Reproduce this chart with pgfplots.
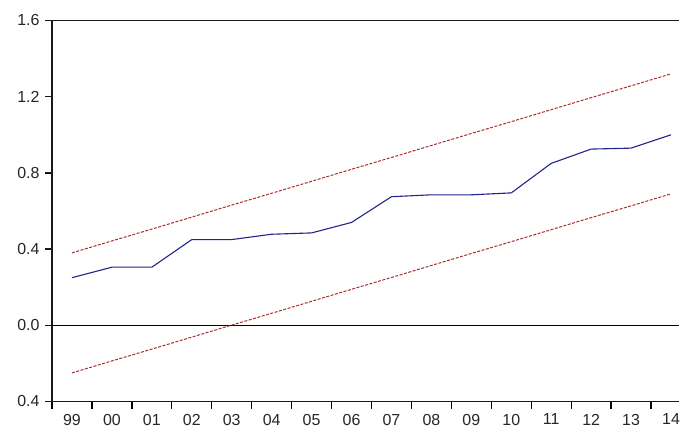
\documentclass[border=0pt]{standalone}
\usepackage{pgfplots}
\pgfplotsset{compat=1.18}
\usepackage{fontspec}
\setmainfont{Liberation Sans}
\definecolor{cusum}{RGB}{35,35,140}
\definecolor{bound}{RGB}{170,45,45}
\begin{document}
\begin{tikzpicture}
\begin{axis}[
  name=ax,
  scale only axis,
  width=627bp, height=381bp,
  xmin=-0.5, xmax=15.2,
  ymin=-0.4, ymax=1.6,
  axis line style={draw=none},
  xtick pos=bottom, ytick pos=left,
  tick align=outside,
  xtick={-0.5,0.5,...,14.5},
  xticklabels={99,00,01,02,03,04,05,06,07,08,09,10,11,12,13,14},
  xticklabel style={xshift=19.97bp, yshift=-2bp},
  ytick={-0.4,0,0.4,0.8,1.2,1.6},
  yticklabels={0.4,0.0,0.4,0.8,1.2,1.6},
  major tick length=7bp,
  ticklabel style={font=\fontsize{16}{18}\selectfont, text=black!85},
  yticklabel style={xshift=-2bp},
  tick style={black, line width=1.3bp},
  clip=false,
]
\draw[black!90, line width=1.4bp] (rel axis cs:1,1) -- (rel axis cs:0,1) -- (rel axis cs:0,0);
\draw[black!90, line width=1.6bp] (rel axis cs:0,0) -- (rel axis cs:1,0);
\pgfplotsinvokeforeach{-0.4,0,0.4,0.8,1.2,1.6}{
  \draw[black!90, line width=1.2bp] (axis cs:-0.5,#1) -- ([xshift=-7bp]axis cs:-0.5,#1);
}
\addplot[black, line width=1bp] coordinates {(-0.5,0) (15.2,0)};
\addplot[bound, line width=1bp, dash pattern=on 3bp off 1.5bp] coordinates {
(0,0.380) (1,0.443) (2,0.505) (3,0.568) (4,0.631) (5,0.693) (6,0.756) (7,0.819)
(8,0.881) (9,0.944) (10,1.007) (11,1.069) (12,1.132) (13,1.195) (14,1.257) (15,1.320)};
\addplot[bound, line width=1bp, dash pattern=on 3bp off 1.5bp] coordinates {
(0,-0.250) (1,-0.187) (2,-0.125) (3,-0.062) (4,0.001) (5,0.063) (6,0.126) (7,0.189)
(8,0.251) (9,0.314) (10,0.377) (11,0.439) (12,0.502) (13,0.565) (14,0.627) (15,0.690)};
\addplot[cusum, line width=1.1bp] coordinates {
(0,0.25) (1,0.305) (2,0.305) (3,0.45) (4,0.45) (5,0.478) (6,0.485) (7,0.54)
(8,0.675) (9,0.685) (10,0.685) (11,0.695) (12,0.85) (13,0.925) (14,0.93) (15,1.0)};
\end{axis}
\pgfresetboundingbox
\path[use as bounding box] ([xshift=-52bp,yshift=-35.5bp]ax.south west) rectangle ([xshift=1bp,yshift=20.5bp]ax.north east);
\end{tikzpicture}
\end{document}
